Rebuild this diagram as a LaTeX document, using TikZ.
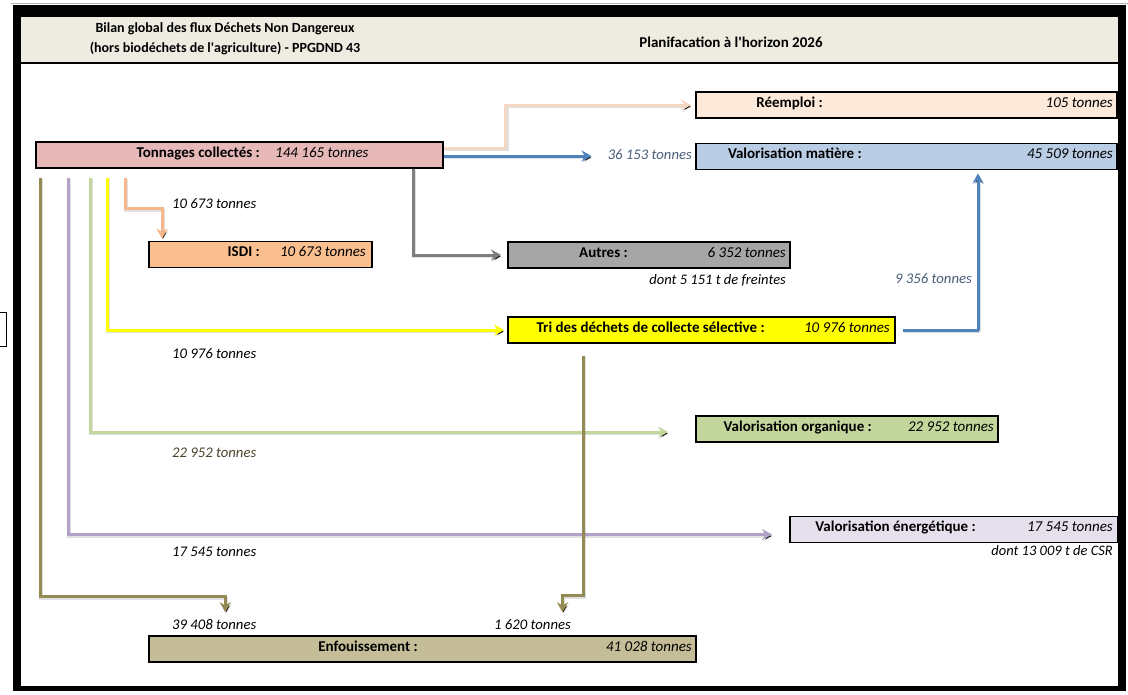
\documentclass[tikz,border=0pt]{standalone}
\usepackage{fontspec}
\setmainfont{Carlito}
\usetikzlibrary{arrows.meta}

% fills of the boxes
\definecolor{hdrfill}{HTML}{EEECE1}
\definecolor{tonfill}{HTML}{E6B9B8}
\definecolor{isdifill}{HTML}{FABF8F}
\definecolor{autfill}{HTML}{A6A6A6}
\definecolor{trifill}{HTML}{FFFF00}
\definecolor{reemfill}{HTML}{FDE9D9}
\definecolor{vmfill}{HTML}{B9CDE5}
\definecolor{orgfill}{HTML}{C3D69B}
\definecolor{enefill}{HTML}{E5E0EC}
\definecolor{enffill}{HTML}{C4BD97}
% flow colours
\definecolor{cpeach}{HTML}{F4D8C6}
\definecolor{cblue}{HTML}{4F81BD}
\definecolor{cgrey}{HTML}{7F7F7F}
\definecolor{corange}{HTML}{F8B68C}
\definecolor{cyellow}{HTML}{FFFF00}
\definecolor{cgreen}{HTML}{C3D69B}
\definecolor{cpurple}{HTML}{B3A2C7}
\definecolor{colive}{HTML}{948A54}
% text colours
\definecolor{tblue}{HTML}{4A5E7A}
\definecolor{tolive}{HTML}{4A452A}

\tikzset{
  box/.style={draw=black, line width=1.8pt, inner sep=0pt, minimum height=26pt},
  blab/.style={font=\fontsize{15}{17}\selectfont\bfseries, inner sep=0pt},
  bnum/.style={font=\fontsize{15}{17}\selectfont\itshape, inner sep=0pt},
  note/.style={font=\fontsize{14.7}{17}\selectfont\itshape, inner sep=0pt},
  small/.style={font=\fontsize{14.5}{16}\selectfont\itshape, inner sep=0pt},
  hdr/.style={font=\fontsize{14}{20}\selectfont\bfseries, inner sep=0pt, align=center},
  flow/.style={line width=3pt, -{Stealth[length=10pt,width=11pt]},
    preaction={draw=black, draw opacity=0.12, line width=3.5pt,
      transform canvas={shift={(1pt,-1.5pt)}}}},
}

\begin{document}
\begin{tikzpicture}[x=1pt,y=-1pt]
\useasboundingbox (0,0) rectangle (1128,694);
\fill[white] (0,0) rectangle (1128,694);

% outer frame and header band
\draw[gray!60, line width=0.8pt] (11,3) -- (1128,3);
\fill[hdrfill] (21,17) rectangle (1118,62);
\draw[black, line width=2pt] (21,63) -- (1118,63);
\fill[black] (13,5) rectangle (1126,17);
\fill[black] (13,5) rectangle (21,691);
\fill[black] (1118,5) rectangle (1126,691);
\fill[black] (13,686) rectangle (1126,691);
\draw[black, line width=0.8pt] (-2,312) rectangle (6,346);

\node[hdr] (title) at (225,38.5) {Bilan global des flux Déchets Non Dangereux\\(hors biodéchets de l\textquotesingle agriculture) - PPGDND 43};
\node[hdr, font=\fontsize{15}{20}\selectfont\bfseries] (horizon) at (731,42) {Planifacation à l\textquotesingle horizon 2026};

% boxes
\node[box, fill=tonfill,  minimum width=407pt] (ton)  at (239.5,155) {};
\node[box, fill=isdifill, minimum width=223pt] (isdi) at (260.5,254.5) {};
\node[box, fill=autfill,  minimum width=282pt] (aut)  at (649,255) {};
\node[box, fill=trifill,  minimum width=387pt] (tri)  at (701.5,330) {};
\node[box, fill=reemfill, minimum width=421pt] (reem) at (906.5,105) {};
\node[box, fill=vmfill,   minimum width=421pt] (vm)   at (906.5,156.5) {};
\node[box, fill=orgfill,  minimum width=302pt] (org)  at (847,429) {};
\node[box, fill=enefill,  minimum width=328pt] (ene)  at (954,529.5) {};
\node[box, fill=enffill,  minimum width=547pt] (enf)  at (422.5,649) {};

% box texts
\node[blab, anchor=mid east] (tonL) at (260,155) {Tonnages collectés :};
\node[bnum, anchor=mid west] (tonN) at (275,155) {144 165 tonnes};
\node[blab, anchor=mid east] (isdiL) at (260,254.5) {ISDI :};
\node[bnum, anchor=mid east] (isdiN) at (366,254.5) {10 673 tonnes};
\node[blab, anchor=mid east] (autL) at (628,255) {Autres :};
\node[bnum, anchor=mid east] (autN) at (786,255) {6 352 tonnes};
\node[blab, anchor=mid east] (triL) at (765,330) {Tri des déchets de collecte sélective :};
\node[bnum, anchor=mid east] (triN) at (890,330) {10 976 tonnes};
\node[blab, anchor=mid east] (reemL) at (823,105) {Réemploi :};
\node[bnum, anchor=mid east] (reemN) at (1113,105) {105 tonnes};
\node[blab, anchor=mid east] (vmL) at (862,156.5) {Valorisation matière :};
\node[bnum, anchor=mid east] (vmN) at (1113,156.5) {45 509 tonnes};
\node[blab, anchor=mid east] (orgL) at (872,429) {Valorisation organique :};
\node[bnum, anchor=mid east] (orgN) at (994,429) {22 952 tonnes};
\node[blab, anchor=mid east] (eneL) at (976,529.5) {Valorisation énergétique :};
\node[bnum, anchor=mid east] (eneN) at (1113,529.5) {17 545 tonnes};
\node[blab, anchor=mid east] (enfL) at (418,649) {Enfouissement :};
\node[bnum, anchor=mid east] (enfN) at (692,649) {41 028 tonnes};

% flow quantities
\node[note, anchor=mid west] (l10673) at (172,206) {10 673 tonnes};
\node[note, anchor=mid west] (l10976) at (172,356) {10 976 tonnes};
\node[note, anchor=mid west, text=tolive] (l22952) at (172,455) {22 952 tonnes};
\node[note, anchor=mid west] (l17545) at (172,554) {17 545 tonnes};
\node[note, anchor=mid west] (l39408) at (172,627) {39 408 tonnes};
\node[note, anchor=mid west] (l1620) at (494,627) {1 620 tonnes};
\node[note, anchor=mid east, text=tblue] (l36153) at (692,157) {36 153 tonnes};
\node[note, anchor=mid east, text=tblue] (l9356) at (972,281) {9 356 tonnes};
\node[small, anchor=mid east] (freintes) at (786,282) {dont 5 151 t de freintes};
\node[small, anchor=mid east] (csr) at (1113,553) {dont 13 009 t de CSR};

% flows leaving the collected tonnage
\draw[flow, cpeach, shorten >=4pt] ([yshift=7pt]ton.east) -- ++(62,0) |- (reem.west);
\draw[flow, cblue, shorten >=16pt] ([yshift=-1pt]ton.east) -- ([yshift=-1pt]ton.east -| l36153.west);
\draw[flow, cgrey, shorten >=6pt] ([xshift=173.5pt]ton.south) |- (aut.west);
\draw[flow, corange, shorten <=9pt, shorten >=2pt] ([xshift=-114.5pt]ton.south) -- ++(0,40) -| ([xshift=-98.5pt]isdi.north);
\draw[flow, cyellow, shorten <=9pt, shorten >=3pt] ([xshift=-132.5pt]ton.south) |- (tri.west);
\draw[flow, cgreen, shorten <=9pt, shorten >=27pt] ([xshift=-149.5pt]ton.south) |- ([yshift=-3pt]org.west);
\draw[flow, cpurple, shorten <=9pt, shorten >=17pt] ([xshift=-171.5pt]ton.south) |- ([yshift=-5pt]ene.west);
\draw[flow, colive, shorten <=9pt, shorten >=7pt] ([xshift=-199.5pt]ton.south) -- ++(0,428) -| ([xshift=11pt]l39408.north);

% flows leaving the sorting centre
\draw[flow, cblue, shorten <=7pt, shorten >=3pt] (tri.east) -- ++(83,0) -| ([xshift=71.5pt]vm.south);
\draw[flow, colive, shorten <=12pt, shorten >=7pt] ([xshift=-118.5pt]tri.south) -- ++(0,252) -| ([xshift=30pt]l1620.north);
\end{tikzpicture}
\end{document}
